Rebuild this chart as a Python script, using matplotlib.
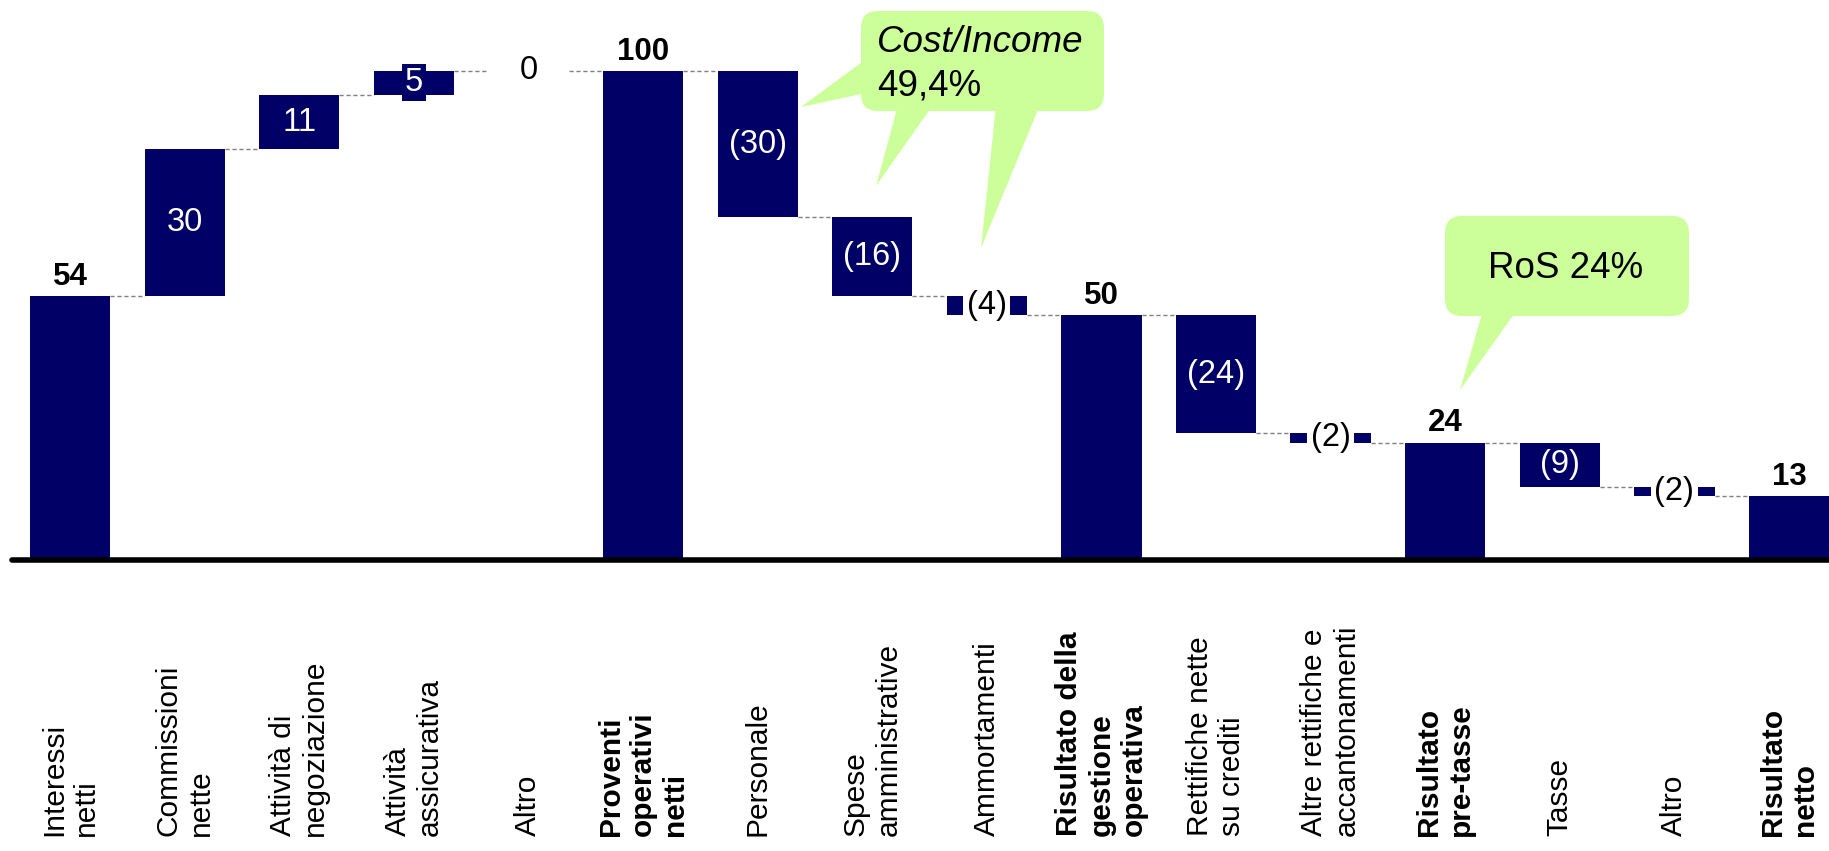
import numpy as np
import matplotlib.pyplot as plt
from matplotlib.patches import FancyBboxPatch, Polygon

plt.rcParams['font.family'] = ['Liberation Sans', 'DejaVu Sans']

# dati del conto economico (proventi = 100)
categorie = ['Interessi\nnetti', 'Commissioni\nnette', 'Attività di\nnegoziazione',
             'Attività\nassicurativa', 'Altro', 'Proventi\noperativi\nnetti', 'Personale',
             'Spese\namministrative', 'Ammortamenti', 'Risultato della\ngestione\noperativa',
             'Rettifiche nette\nsu crediti', 'Altre rettifiche e\naccantonamenti',
             'Risultato\npre-tasse', 'Tasse', 'Altro', 'Risultato\nnetto']
valori = [54, 30, 11, 5, 0, 100, -30, -16, -4, 50, -24, -2, 24, -9, -2, 13]
totali = [0, 5, 9, 12, 15]      # barre che partono da zero
grassetto = [5, 9, 12, 15]      # categorie in grassetto

blu = '#000066'
verde = '#CCFF99'
larghezza = 0.7

fig = plt.figure(figsize=(18.29, 8.51), dpi=100)
ax = fig.add_axes([0, 0, 1, 1])
ax.set_xlim(-0.611, 15.349)
ax.set_ylim(-59.5, 114.45)
ax.axis('off')

# calcolo basi e altezze del waterfall
x = np.arange(len(valori))
basi, altezze, livelli = [], [], []
livello = 0
for i, v in enumerate(valori):
    if i in totali:
        basi.append(0)
        altezze.append(v)
        livello = v
    else:
        basi.append(min(livello, livello + v))
        altezze.append(abs(v))
        livello += v
    livelli.append(livello)

ax.bar(x, altezze, bottom=basi, width=larghezza, color=blu, zorder=2)

# linee tratteggiate di collegamento
for i in range(len(valori) - 1):
    ax.plot([i + larghezza / 2, i + 1 - larghezza / 2], [livelli[i], livelli[i]],
            color='#808080', lw=1, dashes=(3, 2), zorder=1)

# asse orizzontale
ax.plot([-0.506, 15.4], [0, 0], color='black', lw=4, solid_capstyle='round',
        clip_on=False, zorder=3)

# etichette dei valori
for i, v in enumerate(valori):
    testo = str(v) if v >= 0 else '(%d)' % abs(v)
    if i in totali:
        ax.annotate(testo, (i, v), xytext=(0, 3), textcoords='offset points',
                    ha='center', va='bottom', fontsize=22.5, fontweight='bold', zorder=5)
        continue
    centro = basi[i] + altezze[i] / 2
    if abs(v) < 5:
        ax.text(i, centro, testo, ha='center', va='center', fontsize=23.5, color='black',
                bbox=dict(facecolor='white', edgecolor='none', pad=2.5), zorder=5)
    elif abs(v) < 8:
        ax.text(i, centro, testo, ha='center', va='center', fontsize=23.5, color='white',
                bbox=dict(facecolor=blu, edgecolor='none', pad=2), zorder=5)
    else:
        ax.text(i, centro, testo, ha='center', va='center', fontsize=23.5, color='white',
                zorder=5)

# nomi delle categorie, ruotati
for i, c in enumerate(categorie):
    ax.text(i, -56.5, c, rotation=90, ha='center', va='bottom', fontsize=21.5,
            fontweight='bold' if i in grassetto else 'normal',
            multialignment='left', linespacing=1.2)

# fumetti (coordinate in pixel)
ov = fig.add_axes([0, 0, 1, 1])
ov.set_xlim(0, 1829)
ov.set_ylim(851, 0)
ov.axis('off')

ov.add_patch(FancyBboxPatch((861, 11), 243, 100, boxstyle='round,pad=0,rounding_size=17',
                            facecolor=verde, edgecolor='none'))
for punte in [[(866, 59), (801, 107), (866, 93)],
              [(898, 105), (876, 186), (933, 105)],
              [(996, 105), (981, 248), (1040, 105)]]:
    ov.add_patch(Polygon(punte, closed=True, facecolor=verde, edgecolor='none'))
ov.text(877, 52, 'Cost/Income', style='italic', fontsize=26.5, ha='left', va='baseline')
ov.text(877, 96, '49,4%', fontsize=26.5, ha='left', va='baseline')

ov.add_patch(FancyBboxPatch((1445, 216), 244, 100, boxstyle='round,pad=0,rounding_size=17',
                            facecolor=verde, edgecolor='none'))
ov.add_patch(Polygon([(1483, 310), (1460, 390), (1517, 310)], closed=True,
                     facecolor=verde, edgecolor='none'))
ov.text(1566, 278, 'RoS 24%', fontsize=26.5, ha='center', va='baseline')

fig.savefig('out.png', dpi=100)
